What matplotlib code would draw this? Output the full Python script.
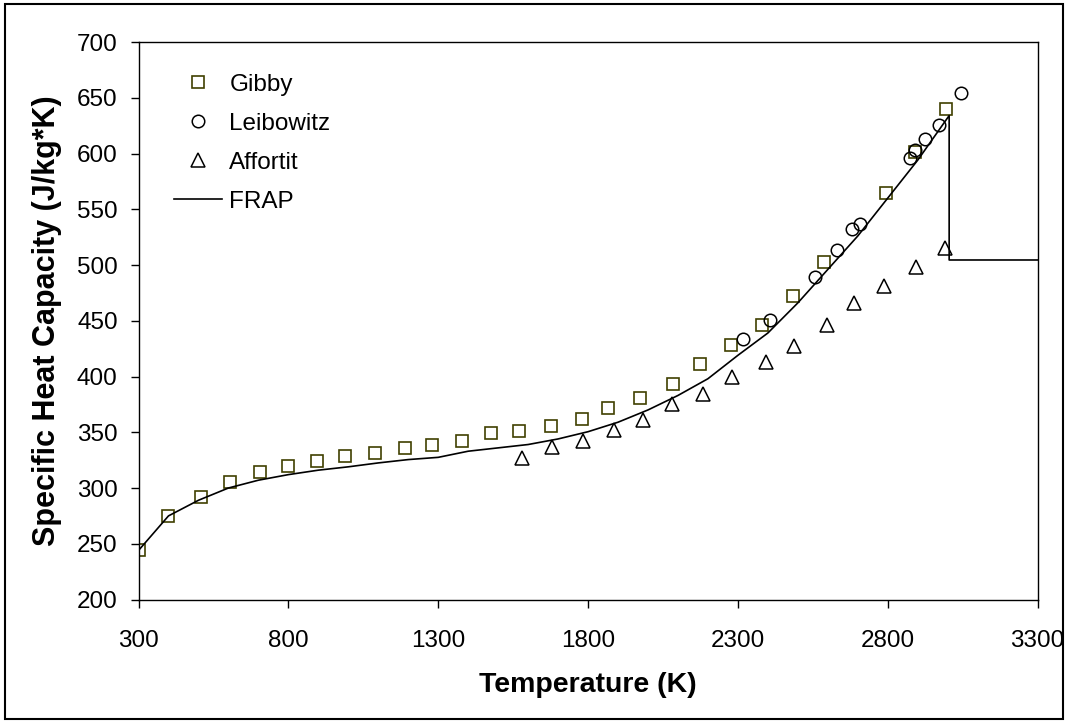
import numpy as np
import matplotlib
matplotlib.use("Agg")
import matplotlib.pyplot as plt
from matplotlib.patches import Rectangle

plt.rcParams['font.family'] = ['Liberation Sans', 'DejaVu Sans']

# Gibby (squares)
gibby_t = [300, 400, 510, 605, 705, 800, 895, 990, 1090, 1190, 1280, 1380, 1476, 1569,
           1677, 1780, 1866, 1974, 2083, 2175, 2278, 2381, 2483, 2587, 2793, 2891, 2994]
gibby_cp = [244, 275, 292, 305.5, 314.5, 319.5, 324, 328.5, 331, 336, 339, 342, 349, 351.5,
            356, 362, 371.5, 381, 393, 411, 428, 446.5, 472.5, 503, 564.5, 601.5, 639.5]

# Leibowitz (circles)
leib_t = [2318, 2408, 2558, 2632, 2680, 2708, 2874, 2891, 2926, 2971, 3045]
leib_cp = [434, 451, 489.5, 513.5, 532, 537, 596, 603, 613, 626, 654]

# Affortit (triangles)
aff_t = [1580, 1680, 1782, 1886, 1982, 2080, 2184, 2280, 2395, 2486, 2598, 2688, 2789, 2893, 2990]
aff_cp = [327, 337, 342.5, 352, 361, 375, 384, 400, 413, 427, 446, 466, 481, 498, 515]

# FRAP (line)
frap_t = [300, 400, 500, 600, 700, 800, 900, 1000, 1100, 1200, 1300, 1400, 1500, 1600, 1700,
          1800, 1900, 2000, 2100, 2200, 2300, 2400, 2500, 2600, 2700, 2800, 2900, 3005, 3005, 3300]
frap_cp = [244, 275, 289, 300, 307, 312, 316, 319, 322.5, 325.5, 327.5, 333, 336, 339, 344,
           350.5, 359, 370, 383, 398, 419, 439, 466, 496, 526, 560, 594, 634, 504.5, 504.5]

fig = plt.figure(figsize=(10.68, 7.23), dpi=100)
ax = fig.add_axes([0.1297, 0.1708, 0.8418, 0.7711])

ax.plot(gibby_t, gibby_cp, linestyle='none', marker='s', markersize=9,
        markerfacecolor='none', markeredgecolor='#404000', markeredgewidth=1.2, label='Gibby')
ax.plot(leib_t, leib_cp, linestyle='none', marker='o', markersize=9,
        markerfacecolor='none', markeredgecolor='black', markeredgewidth=1.1, label='Leibowitz')
ax.plot(aff_t, aff_cp, linestyle='none', marker='^', markersize=10,
        markerfacecolor='none', markeredgecolor='black', markeredgewidth=1.1, label='Affortit')
ax.plot(frap_t, frap_cp, color='black', linewidth=1.2, label='FRAP')

ax.set_xlim(300, 3300)
ax.set_ylim(200, 700)
ax.set_xticks(np.arange(300, 3301, 500))
ax.set_yticks(np.arange(200, 701, 50))
ax.tick_params(axis='both', direction='out', labelsize=17.5, color='black', width=1)
ax.tick_params(axis='x', length=6, pad=16)
ax.tick_params(axis='y', length=6, pad=9)
for s in ax.spines.values():
    s.set_linewidth(1.0)
    s.set_color('black')

ax.set_xlabel('Temperature (K)', fontsize=20.5, fontweight='bold', labelpad=14)
ax.set_ylabel('Specific Heat Capacity (J/kg*K)', fontsize=22, fontweight='bold', labelpad=11)

ax.legend(loc='upper left', frameon=False, fontsize=17.5, handlelength=2.0,
          handletextpad=0.3, labelspacing=0.7, bbox_to_anchor=(0.02, 0.974), borderaxespad=0.3)

fig.patches.append(Rectangle((0.005, 0.006), 0.99, 0.988, transform=fig.transFigure,
                             fill=False, edgecolor='black', linewidth=1.5))

fig.savefig('out.png', dpi=100)
